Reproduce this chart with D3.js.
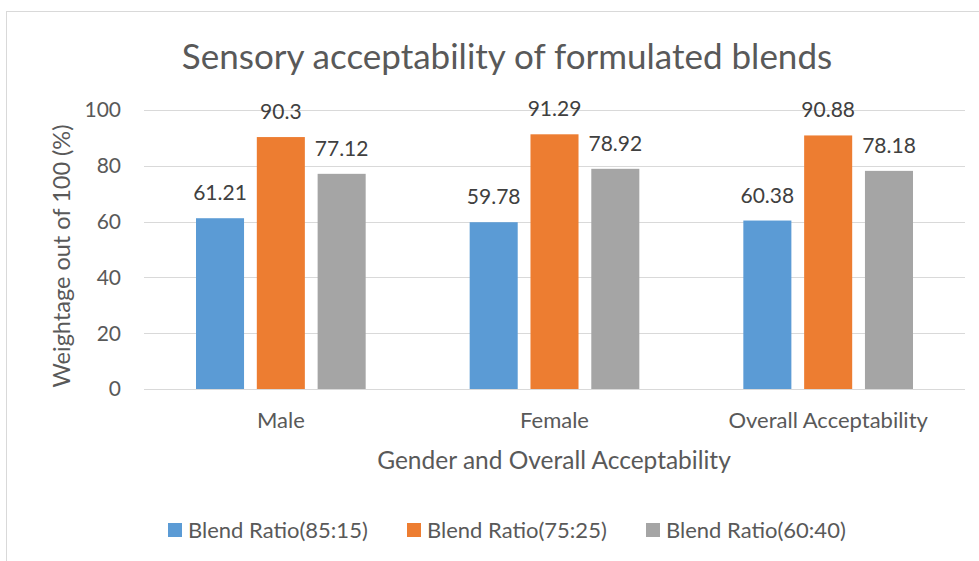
<!DOCTYPE html>
<html>
<head>
<meta charset="utf-8">
<script src="https://cdn.jsdelivr.net/npm/d3@7"></script>
<style>
  body { margin: 0; background: #fff; }
  text { font-family: Lato, "Open Sans", sans-serif; fill: #595959; }
</style>
</head>
<body>
<svg id="chart" width="979" height="561"></svg>
<script>
// data
const categories = ["Male", "Female", "Overall Acceptability"];
const seriesNames = ["Blend Ratio(85:15)", "Blend Ratio(75:25)", "Blend Ratio(60:40)"];
const blend8515 = [61.21, 59.78, 60.38];
const blend7525 = [90.3, 91.29, 90.88];
const blend6040 = [77.12, 78.92, 78.18];
const yTicks = [0, 20, 40, 60, 80, 100];
const colors = ["#5b9bd5", "#ed7d31", "#a5a5a5"];

const series = [blend8515, blend7525, blend6040];

const svg = d3.select("#chart");

// chart frame (only left/top border fall inside the picture)
svg.append("rect")
    .attr("x", 6.5).attr("y", 11.5)
    .attr("width", 1000).attr("height", 600)
    .attr("fill", "none")
    .attr("stroke", "#d9d9d9");

const plot = { left: 144, right: 965, top: 110, bottom: 389 };

const x0 = d3.scaleBand()
    .domain(categories)
    .range([plot.left, plot.right])
    .padding(0);

const x1 = d3.scaleBand()
    .domain(d3.range(series.length))
    .range([52, x0.bandwidth() - 52])
    .paddingInner(0.21);

const y = d3.scaleLinear()
    .domain([0, 100])
    .range([plot.bottom, plot.top]);

// gridlines
svg.append("g")
    .selectAll("line")
    .data(yTicks)
    .join("line")
        .attr("x1", plot.left).attr("x2", plot.right)
        .attr("y1", d => Math.round(y(d)) + 0.5)
        .attr("y2", d => Math.round(y(d)) + 0.5)
        .attr("stroke", "#d9d9d9")
        .attr("stroke-width", 1);

// y tick labels
svg.append("g")
    .selectAll("text")
    .data(yTicks)
    .join("text")
        .attr("x", plot.left - 23)
        .attr("y", d => y(d))
        .attr("dy", "0.35em")
        .attr("text-anchor", "end")
        .style("font-size", "21px")
        .text(d => d);

// bars
const groups = svg.append("g")
    .selectAll("g")
    .data(categories)
    .join("g")
        .attr("transform", d => "translate(" + x0(d) + ",0)");

const cells = (c, ci) => series.map((s, si) => ({ si: si, v: s[ci] }));

groups.selectAll("rect")
    .data(cells)
    .join("rect")
        .attr("x", d => x1(d.si))
        .attr("width", x1.bandwidth())
        .attr("y", d => y(d.v))
        .attr("height", d => y(0) - y(d.v))
        .attr("fill", d => colors[d.si]);

groups.selectAll("text.label")
    .data(cells)
    .join("text")
        .attr("class", "label")
        .attr("x", d => x1(d.si) + x1.bandwidth() / 2)
        .attr("y", d => y(d.v) - 18)
        .attr("text-anchor", "middle")
        .style("font-size", "21px")
        .style("fill", "#404040")
        .text(d => d.v);

// category labels
svg.append("g")
    .selectAll("text")
    .data(categories)
    .join("text")
        .attr("x", d => x0(d) + x0.bandwidth() / 2)
        .attr("y", plot.bottom + 39)
        .attr("text-anchor", "middle")
        .style("font-size", "22px")
        .text(d => d);

// title
svg.append("text")
    .attr("x", 507)
    .attr("y", 69)
    .attr("text-anchor", "middle")
    .style("font-size", "35px")
    .text("Sensory acceptability of formulated blends");

// axis titles
svg.append("text")
    .attr("x", 554)
    .attr("y", 469)
    .attr("text-anchor", "middle")
    .style("font-size", "24.5px")
    .text("Gender and Overall Acceptability");

svg.append("text")
    .attr("transform", "translate(70,256) rotate(-90)")
    .attr("text-anchor", "middle")
    .style("font-size", "23.5px")
    .text("Weightage out of 100 (%)");

// legend
const legendX = [168, 407, 646];
const legend = svg.append("g")
    .selectAll("g")
    .data(seriesNames)
    .join("g")
        .attr("transform", (d, i) => "translate(" + legendX[i] + ",523)");

legend.append("rect")
    .attr("width", 14).attr("height", 14)
    .attr("fill", (d, i) => colors[i]);

legend.append("text")
    .attr("x", 20)
    .attr("y", 7)
    .attr("dy", "0.35em")
    .style("font-size", "22px")
    .text(d => d);
</script>
</body>
</html>
